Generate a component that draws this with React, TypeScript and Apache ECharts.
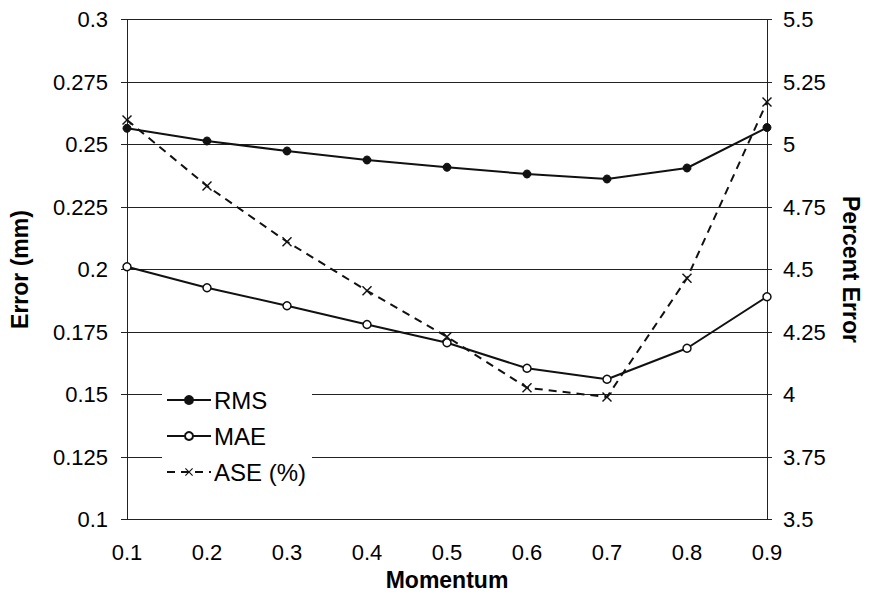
import React, { useEffect, useRef } from "react";
import * as echarts from "echarts";

// Momentum settings on the x axis
const momentum = ["0.1", "0.2", "0.3", "0.4", "0.5", "0.6", "0.7", "0.8", "0.9"];

// Error in mm (left axis)
const rms = [0.2565, 0.2514, 0.2474, 0.2438, 0.2409, 0.2382, 0.2362, 0.2406, 0.2568];
const mae = [0.2011, 0.1927, 0.1855, 0.178, 0.1707, 0.1605, 0.1561, 0.1685, 0.1891];

// Percent error (right axis)
const ase = [5.098, 4.834, 4.611, 4.415, 4.231, 4.027, 3.99, 4.465, 5.17];

const FONT = "'Liberation Sans', Arial, sans-serif";
const CROSS = "path://M0,1 L1,0 L5,4 L9,0 L10,1 L6,5 L10,9 L9,10 L5,6 L1,10 L0,9 L4,5 Z";

export default function App() {
  const ref = useRef<HTMLDivElement>(null);

  useEffect(() => {
    if (!ref.current) return;
    const chart = echarts.init(ref.current, undefined, { renderer: "svg" });
    const lineColor = "#111";
    const titleStyle = { fontFamily: FONT, fontSize: 23, fontWeight: "bold", color: "#000" };
    const tickLabel = { fontFamily: FONT, fontSize: 22, color: "#000" };
    chart.setOption({
      animation: false,
      backgroundColor: "#fff",
      textStyle: { fontFamily: FONT, color: "#000" },
      grid: { left: 126, right: 101, top: 19.5, bottom: 79.5 },
      legend: {
        orient: "vertical",
        left: 162,
        top: 386,
        backgroundColor: "#fff",
        padding: [2, 6, 2, 4],
        itemWidth: 44,
        itemHeight: 10,
        itemGap: 12,
        textStyle: { fontFamily: FONT, fontSize: 24, color: "#000", padding: [0, 0, 0, -2] },
        data: ["RMS", "MAE", "ASE (%)"],
      },
      xAxis: {
        type: "category",
        data: momentum,
        boundaryGap: false,
        name: "Momentum",
        nameLocation: "middle",
        nameGap: 46,
        nameTextStyle: titleStyle,
        axisLine: { lineStyle: { color: "#222", width: 1 } },
        axisTick: { show: false },
        axisLabel: { ...tickLabel, margin: 22 },
        splitLine: { show: false },
      },
      yAxis: [
        {
          type: "value",
          min: 0.1,
          max: 0.3,
          interval: 0.025,
          name: "Error (mm)",
          nameLocation: "middle",
          nameGap: 96,
          nameRotate: 90,
          nameTextStyle: titleStyle,
          axisLine: { show: true, lineStyle: { color: "#222", width: 1 } },
          axisTick: { show: true, length: 6, lineStyle: { color: "#222" } },
          axisLabel: { ...tickLabel, margin: 19 },
          splitLine: { show: true, lineStyle: { color: "#222", width: 1 } },
        },
        {
          type: "value",
          min: 3.5,
          max: 5.5,
          interval: 0.25,
          name: "Percent Error",
          nameLocation: "middle",
          nameGap: 72,
          nameRotate: -90,
          nameTextStyle: titleStyle,
          axisLine: { show: true, lineStyle: { color: "#222", width: 1 } },
          axisTick: { show: true, length: 5, lineStyle: { color: "#222" } },
          axisLabel: { ...tickLabel, margin: 16 },
          splitLine: { show: false },
        },
      ],
      series: [
        {
          name: "RMS",
          type: "line",
          yAxisIndex: 0,
          data: rms,
          symbol: "circle",
          symbolSize: 8,
          lineStyle: { color: lineColor, width: 2 },
          itemStyle: { color: lineColor, borderColor: lineColor, borderWidth: 1 },
          z: 3,
        },
        {
          name: "MAE",
          type: "line",
          yAxisIndex: 0,
          data: mae,
          symbol: "circle",
          symbolSize: 8,
          lineStyle: { color: lineColor, width: 2 },
          itemStyle: { color: "#fff", borderColor: lineColor, borderWidth: 1.5 },
          z: 3,
        },
        {
          name: "ASE (%)",
          type: "line",
          yAxisIndex: 1,
          data: ase,
          symbol: CROSS,
          symbolSize: 10,
          lineStyle: { color: lineColor, width: 2, type: [8, 6] },
          itemStyle: { color: lineColor },
          z: 3,
        },
      ],
    });
    return () => chart.dispose();
  }, []);

  return (
    <div
      ref={ref}
      style={{ position: "fixed", left: 0, top: 0, width: 870, height: 599, background: "#fff" }}
    />
  );
}
